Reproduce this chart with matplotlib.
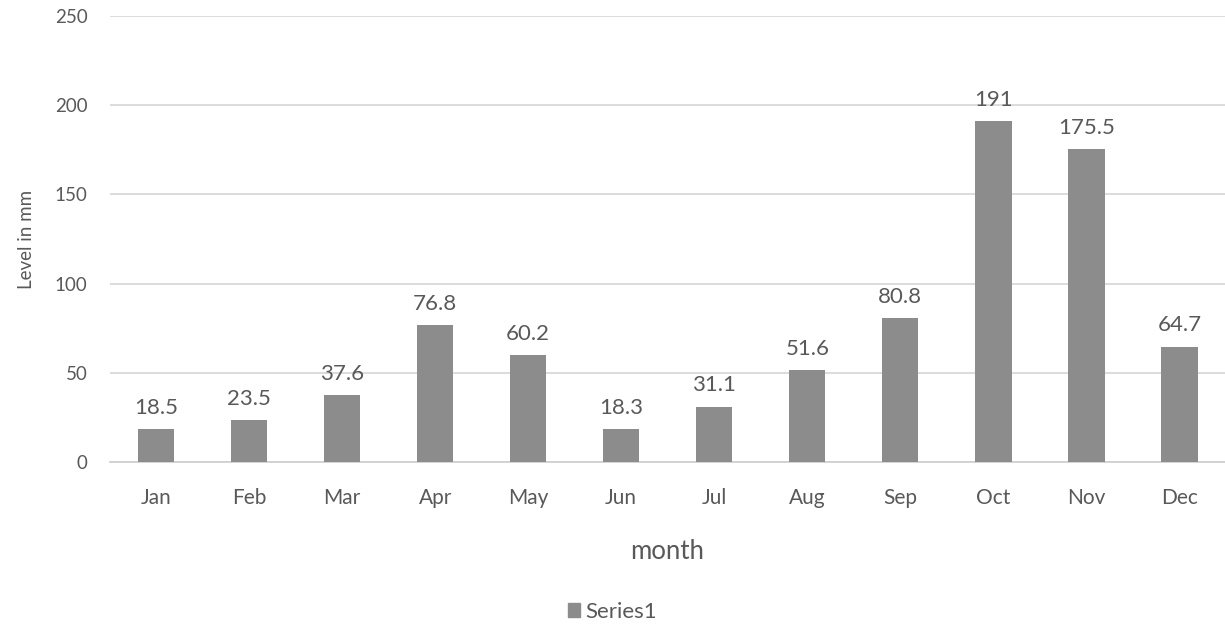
import matplotlib
matplotlib.use("Agg")
import matplotlib.pyplot as plt
from matplotlib.patches import Patch

months = ["Jan", "Feb", "Mar", "Apr", "May", "Jun", "Jul", "Aug", "Sep", "Oct", "Nov", "Dec"]
levels = [18.5, 23.5, 37.6, 76.8, 60.2, 18.3, 31.1, 51.6, 80.8, 191, 175.5, 64.7]
labels = ["18.5", "23.5", "37.6", "76.8", "60.2", "18.3", "31.1", "51.6", "80.8", "191", "175.5", "64.7"]
yticks = [0, 50, 100, 150, 200, 250]

plt.rcParams['font.family'] = ['Lato', 'DejaVu Sans']
txt = "#595959"
bar_c = "#8c8c8c"

fig = plt.figure(figsize=(12.25, 6.29), dpi=100)
ax = fig.add_axes([0.0895, 0.2655, 0.9105, 0.709])

x = list(range(len(months)))
bars = ax.bar(x, levels, width=0.39, color=bar_c, zorder=3)
for xi, v, lab in zip(x, levels, labels):
    ax.annotate(lab, (xi, v), xytext=(0, 8), textcoords="offset points",
                ha="center", va="bottom", fontsize=16, color=txt)

ax.set_xlim(-0.5, 11.49)
ax.set_ylim(0, 250)
ax.set_yticks(yticks)
ax.set_xticks(x)
ax.set_xticklabels(months)
ax.grid(axis="y", color="#d9d9d9", linewidth=1.3, zorder=0)
ax.set_axisbelow(True)
for s in ["top", "right", "left"]:
    ax.spines[s].set_visible(False)
ax.spines["bottom"].set_color("#d0d0d0")
ax.spines["bottom"].set_linewidth(1.3)
ax.tick_params(axis="y", length=0, colors=txt, labelsize=13.5, pad=16)
ax.tick_params(axis="x", length=0, colors=txt, labelsize=15, pad=19)
ax.set_xlabel("month", fontsize=18.5, color=txt, labelpad=22)
ax.set_ylabel("Level in mm", fontsize=13.5, color=txt, labelpad=14)

fig.legend(handles=[Patch(color=bar_c, label="Series1")], loc="center",
           bbox_to_anchor=(0.5, 0.027), frameon=False, fontsize=16,
           handlelength=0.55, handleheight=0.55, handletextpad=0.25, labelcolor=txt)

fig.savefig("out.png", dpi=100)
